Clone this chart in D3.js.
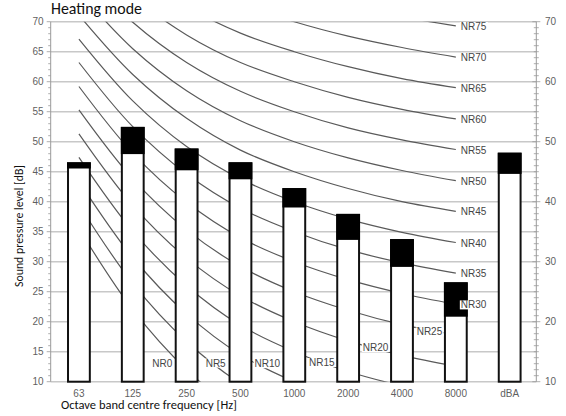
<!DOCTYPE html>
<html>
<head>
<meta charset="utf-8">
<script src="https://cdn.jsdelivr.net/npm/d3@7/dist/d3.min.js"></script>
<style>
  html, body { margin: 0; padding: 0; background: #fff; }
  svg { display: block; }
</style>
</head>
<body>
<svg id="chart" width="566" height="416"></svg>
<script>
// Octave bands on the x axis, plus the overall A-weighted level
const bands = ["63", "125", "250", "500", "1000", "2000", "4000", "8000", "dBA"];

// Sound pressure level per band [dB]: lower (white) part and top of the black cap
const levelBase = [45.7, 48.1, 45.4, 43.9, 39.2, 33.8, 29.3, 21.0, 44.8];
const levelTop  = [46.4, 52.3, 48.7, 46.4, 42.1, 37.8, 33.6, 26.4, 48.0];

// Noise rating curves, values per octave band 63 ... 8000 Hz [dB]
const nrNames = ["NR0", "NR5", "NR10", "NR15", "NR20", "NR25", "NR30", "NR35",
                 "NR40", "NR45", "NR50", "NR55", "NR60", "NR65", "NR70", "NR75"];
const nr0  = [35.5, 22.0, 12.0,  4.8,  0.0, -3.5, -6.1, -8.0];
const nr5  = [39.5, 26.4, 16.7,  9.7,  5.0,  1.6, -1.0, -2.9];
const nr10 = [43.4, 30.7, 21.3, 14.5, 10.0,  6.7,  4.2,  2.3];
const nr15 = [47.4, 35.1, 26.0, 19.4, 15.0, 11.7,  9.3,  7.5];
const nr20 = [51.3, 39.4, 30.6, 24.3, 20.0, 16.8, 14.4, 12.6];
const nr25 = [55.3, 43.8, 35.3, 29.2, 25.0, 21.9, 19.5, 17.8];
const nr30 = [59.2, 48.1, 39.9, 34.0, 30.0, 27.0, 24.7, 22.9];
const nr35 = [63.2, 52.5, 44.6, 38.9, 35.0, 32.0, 29.8, 28.1];
const nr40 = [67.1, 56.8, 49.2, 43.8, 40.0, 37.1, 34.9, 33.2];
const nr45 = [71.1, 61.2, 53.9, 48.6, 45.0, 42.2, 40.0, 38.4];
const nr50 = [75.0, 65.5, 58.5, 53.5, 50.0, 47.3, 45.2, 43.5];
const nr55 = [79.0, 69.9, 63.2, 58.4, 55.0, 52.3, 50.3, 48.7];
const nr60 = [82.9, 74.2, 67.8, 63.2, 60.0, 57.4, 55.4, 53.8];
const nr65 = [86.9, 78.6, 72.5, 68.1, 65.0, 62.5, 60.5, 59.0];
const nr70 = [90.8, 82.9, 77.1, 73.0, 70.0, 67.6, 65.7, 64.1];
const nr75 = [94.8, 87.3, 81.8, 77.9, 75.0, 72.6, 70.8, 69.3];
const nrCurves = [nr0, nr5, nr10, nr15, nr20, nr25, nr30, nr35,
                  nr40, nr45, nr50, nr55, nr60, nr65, nr70, nr75];

// Where the lower curve names sit: [band position, dB]
const nrInlineLabels = [[1.55, 13.1], [2.54, 13.1], [3.5, 13.0], [4.51, 13.2], [5.51, 15.7], [6.51, 18.3]];

const yTicksLeft = d3.range(10, 71, 5);
const yTicksRight = d3.range(10, 71, 10);

const svg = d3.select("#chart");
const plotL = 50.7, plotR = 536.3, plotT = 21.7, plotB = 381.7;

const x = d3.scaleBand().domain(bands).range([52, 536.6]).paddingInner(0).paddingOuter(0);
const y = d3.scaleLinear().domain([10, 70]).range([plotB, plotT]);
const xc = i => x(bands[0]) + x.step() * (i + 0.5);   // fractional band position -> px
const barW = x.step() * 0.405;

const grey = "#5f5f5f";

// horizontal gridlines
svg.append("g").selectAll("line").data(yTicksLeft).join("line")
  .attr("x1", plotL).attr("x2", plotR)
  .attr("y1", d => y(d)).attr("y2", d => y(d))
  .attr("stroke", "#c8c8c8").attr("stroke-width", 1.4);

// NR curves, clipped to the plot
svg.append("clipPath").attr("id", "plotClip")
  .append("rect").attr("x", plotL).attr("y", plotT).attr("width", plotR - plotL).attr("height", plotB - plotT);

const line = d3.line()
  .x((d, i) => xc(i))
  .y(d => y(d))
  .curve(d3.curveCatmullRom.alpha(0.5));

svg.append("g").attr("clip-path", "url(#plotClip)")
  .selectAll("path").data(nrCurves).join("path")
  .attr("d", line)
  .attr("fill", "none")
  .attr("stroke", "#5a5a5a")
  .attr("stroke-width", 1.2);

// bars: white body with outline, black cap on top
const bars = svg.append("g");
bands.forEach((b, i) => {
  const cx = x(b) + x.bandwidth() / 2;
  bars.append("rect")
    .attr("x", cx - barW / 2).attr("width", barW)
    .attr("y", y(levelTop[i])).attr("height", y(10) - y(levelTop[i]))
    .attr("fill", "#fff").attr("stroke", "#111").attr("stroke-width", 2);
  bars.append("rect")
    .attr("x", cx - barW / 2).attr("width", barW)
    .attr("y", y(levelTop[i])).attr("height", y(levelBase[i]) - y(levelTop[i]))
    .attr("fill", "#000").attr("stroke", "#000").attr("stroke-width", 2);
});

// axes
const ax = svg.append("g").attr("stroke", "#9a9a9a");
ax.append("line").attr("x1", plotL).attr("x2", plotL).attr("y1", plotT).attr("y2", plotB).attr("stroke-width", 1);
ax.append("line").attr("x1", plotR).attr("x2", plotR).attr("y1", plotT).attr("y2", plotB).attr("stroke-width", 1);
const minor = d3.range(10, 70.5, 1);
ax.append("g").selectAll("line").data(minor).join("line")
  .attr("x1", d => plotL - (d % 5 === 0 ? 4 : 2.5)).attr("x2", plotL)
  .attr("y1", d => y(d)).attr("y2", d => y(d)).attr("stroke-width", 0.8);
ax.append("g").selectAll("line").data(minor).join("line")
  .attr("x1", d => plotR - (d % 10 === 0 ? 4 : 2.5)).attr("x2", d => plotR + (d % 10 === 0 ? 4 : 2.5))
  .attr("y1", d => y(d)).attr("y2", d => y(d)).attr("stroke-width", 0.8);

const tickFont = "'Liberation Sans', Arial, sans-serif";
svg.append("g").selectAll("text").data(yTicksLeft).join("text")
  .attr("x", 43.5).attr("y", d => y(d)).attr("dy", "0.35em")
  .attr("text-anchor", "end").attr("font-family", tickFont).attr("font-size", 10)
  .attr("fill", grey).text(d => d);
svg.append("g").selectAll("text").data(yTicksRight).join("text")
  .attr("x", 545).attr("y", d => y(d)).attr("dy", "0.35em")
  .attr("text-anchor", "start").attr("font-family", tickFont).attr("font-size", 10)
  .attr("fill", grey).text(d => d);
svg.append("g").selectAll("text").data(bands).join("text")
  .attr("x", d => x(d) + x.bandwidth() / 2).attr("y", 396.5)
  .attr("text-anchor", "middle").attr("font-family", tickFont).attr("font-size", 10)
  .attr("fill", grey).text(d => d);

// curve names with white backing
const labels = svg.append("g");
function nrLabel(text, px, py, anchor) {
  const g = labels.append("g");
  const t = g.append("text")
    .attr("x", px).attr("y", py).attr("dy", "0.35em")
    .attr("text-anchor", anchor)
    .attr("font-family", tickFont).attr("font-size", 10)
    .attr("fill", "#454545").text(text);
  const bb = t.node().getBBox();
  g.insert("rect", "text")
    .attr("x", bb.x - 1).attr("y", bb.y + 1).attr("width", bb.width + 2).attr("height", bb.height - 2)
    .attr("fill", "#fff");
}
nrCurves.forEach((c, k) => {
  if (k < nrInlineLabels.length) {
    const [pos, db] = nrInlineLabels[k];
    nrLabel(nrNames[k], xc(pos), y(db), "middle");
  } else {
    nrLabel(nrNames[k], xc(7) + 5, y(c[7]) + 0.6, "start");
  }
});

// titles, sized to their intended run lengths
const titleFont = "Carlito, Lato, 'Open Sans', sans-serif";
function fitText(sel, width) {
  const fs = +sel.attr("font-size");
  const w = sel.node().getComputedTextLength();
  sel.attr("font-size", (fs * width / w).toFixed(2));
  return sel;
}
fitText(svg.append("text").attr("x", 51).attr("y", 13.5)
  .attr("font-family", titleFont).attr("font-size", 14).attr("fill", "#111")
  .text("Heating mode"), 91);
fitText(svg.append("text").attr("x", 61).attr("y", 409)
  .attr("font-family", titleFont).attr("font-size", 12).attr("fill", "#111")
  .text("Octave band centre frequency [Hz]"), 176);
fitText(svg.append("text")
  .attr("transform", "translate(22.5,226) rotate(-90)")
  .attr("text-anchor", "middle")
  .attr("font-family", titleFont).attr("font-size", 11).attr("fill", "#111")
  .text("Sound pressure level [dB]"), 122);
</script>
</body>
</html>
